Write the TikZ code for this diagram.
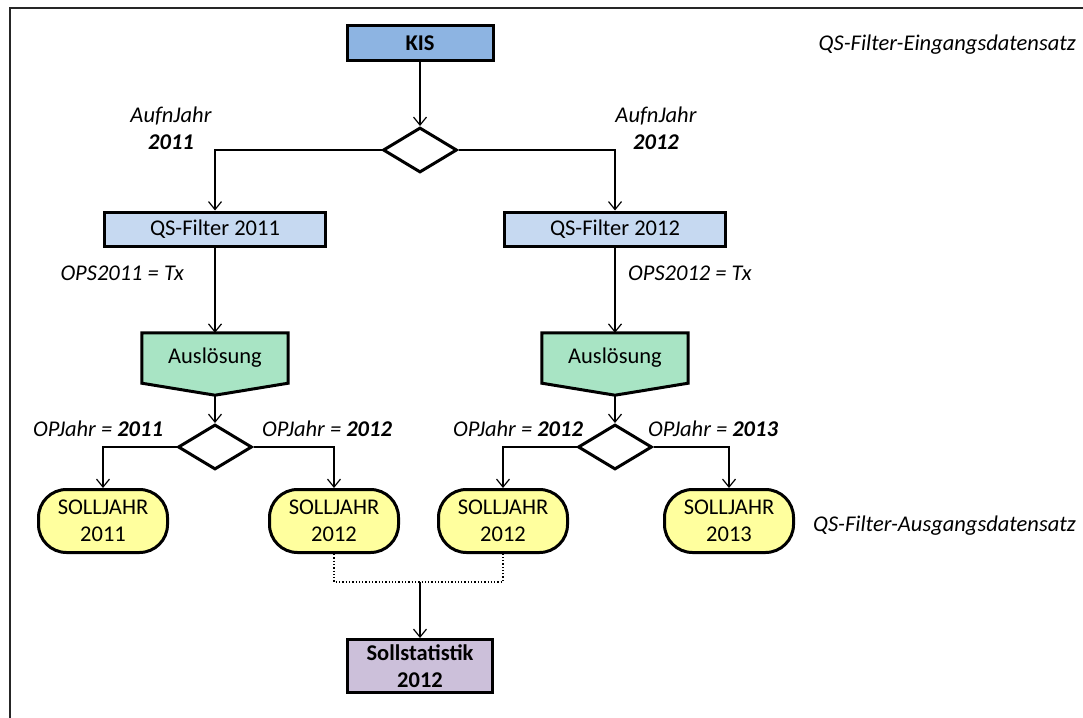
\documentclass[tikz,border=0pt]{standalone}
\usepackage{fontspec}
\setmainfont{Carlito}
\usetikzlibrary{arrows.meta,shapes.geometric,backgrounds,calc}
\definecolor{kisblue}{HTML}{8DB4E2}
\definecolor{qsblue}{HTML}{C6D9F1}
\definecolor{ausgreen}{HTML}{A8E4C4}
\definecolor{sollyellow}{HTML}{FFFF9E}
\definecolor{statlila}{HTML}{CCC0DA}
\begin{document}
\begin{tikzpicture}[x=1pt,y=-1pt,
  font=\fontsize{22.5}{27}\selectfont,
  boxbase/.style={draw, line width=3pt, inner sep=0pt, align=center},
  kisbox/.style={boxbase, fill=kisblue, minimum width=146pt, minimum height=35pt, font=\fontsize{22.5}{27}\selectfont\bfseries},
  qsbox/.style={boxbase, fill=qsblue, minimum width=221pt, minimum height=34pt},
  ausbox/.style={inner sep=0pt, minimum width=146pt, minimum height=50pt},
  ausshape/.style={draw, line width=3pt, fill=ausgreen, line join=miter},
  decision/.style={diamond, draw, line width=3pt, minimum width=74pt, minimum height=45pt, inner sep=0pt, fill=white},
  sollbox/.style={boxbase, fill=sollyellow, rounded corners=28pt, minimum width=129pt, minimum height=63pt},
  statbox/.style={boxbase, fill=statlila, minimum width=145pt, minimum height=53pt, font=\fontsize{22.5}{27}\selectfont\bfseries},
  lbl/.style={inner sep=0pt, align=center, font=\fontsize{22.5}{27}\selectfont\itshape},
  conn/.style={line width=1.2pt, -{Straight Barb[length=8pt,width=13pt,line width=1.2pt]}},
  dotconn/.style={line width=1.3pt, dotted}
]
\useasboundingbox (0,0) rectangle (1083,717);
\draw[line width=2pt, black!85] (10,722) -- (10,8) -- (1088,8);

% nodes
\node[kisbox] (kis) at (420,43) {KIS};
\node[decision] (d1) at (420,150) {};
\node[qsbox] (qs1) at (215,229) {QS-Filter 2011};
\node[qsbox] (qs2) at (615,229) {QS-Filter 2012};
\node[ausbox] (a1) at (215,358) {Auslösung};
\node[ausbox] (a2) at (615,358) {Auslösung};
\coordinate (a1tip) at ($(a1.south)+(0,12)$);
\coordinate (a2tip) at ($(a2.south)+(0,12)$);
\begin{pgfonlayer}{background}
  \filldraw[ausshape] (a1.north west) -- (a1.north east) -- (a1.south east) -- (a1tip) -- (a1.south west) -- cycle;
  \filldraw[ausshape] (a2.north west) -- (a2.north east) -- (a2.south east) -- (a2tip) -- (a2.south west) -- cycle;
\end{pgfonlayer}
\node[decision] (d2) at (215,447) {};
\node[decision] (d3) at (615,447) {};
\node[sollbox] (s11) at (103,521) {SOLLJAHR\\2011};
\node[sollbox] (s12a) at (334,521) {SOLLJAHR\\2012};
\node[sollbox] (s12b) at (503,521) {SOLLJAHR\\2012};
\node[sollbox] (s13) at (729,521) {SOLLJAHR\\2013};
\node[statbox] (stat) at (420,666) {Sollstatistik\\2012};
\coordinate (join) at (420,582);

% labels
\node[lbl] (l1) at (171,128) {AufnJahr\\\textbf{2011}};
\node[lbl] (l2) at (656,128) {AufnJahr\\\textbf{2012}};
\node[lbl, anchor=east] (l3) at (184,273) {OPS2011 = Tx};
\node[lbl, anchor=west] (l4) at (628,273) {OPS2012 = Tx};
\node[lbl] (l5) at (98,429) {OPJahr = \textbf{2011}};
\node[lbl] (l6) at (327,429) {OPJahr = \textbf{2012}};
\node[lbl] (l7) at (518,429) {OPJahr = \textbf{2012}};
\node[lbl] (l8) at (713,429) {OPJahr = \textbf{2013}};
\node[lbl, anchor=east] (l9) at (1076,45) {QS-Filter-Eingangsdatensatz};
\node[lbl, anchor=east] (l10) at (1076,526) {QS-Filter-Ausgangsdatensatz};

% connectors
\draw[conn] (kis.south) -- (d1.north);
\draw[conn] (d1.west) -| (qs1.north);
\draw[conn] (d1.east) -| (qs2.north);
\draw[conn] (qs1.south) -- (a1.north);
\draw[conn] (qs2.south) -- (a2.north);
\draw[conn] (a1tip) -- (d2.north);
\draw[conn] (a2tip) -- (d3.north);
\draw[conn] (d2.west) -| (s11.north);
\draw[conn] (d2.east) -| (s12a.north);
\draw[conn] (d3.west) -| (s12b.north);
\draw[conn] (d3.east) -| (s13.north);
\draw[dotconn] (s12a.south) |- (join) -| (s12b.south);
\draw[conn] (join) -- (stat.north);
\end{tikzpicture}
\end{document}
